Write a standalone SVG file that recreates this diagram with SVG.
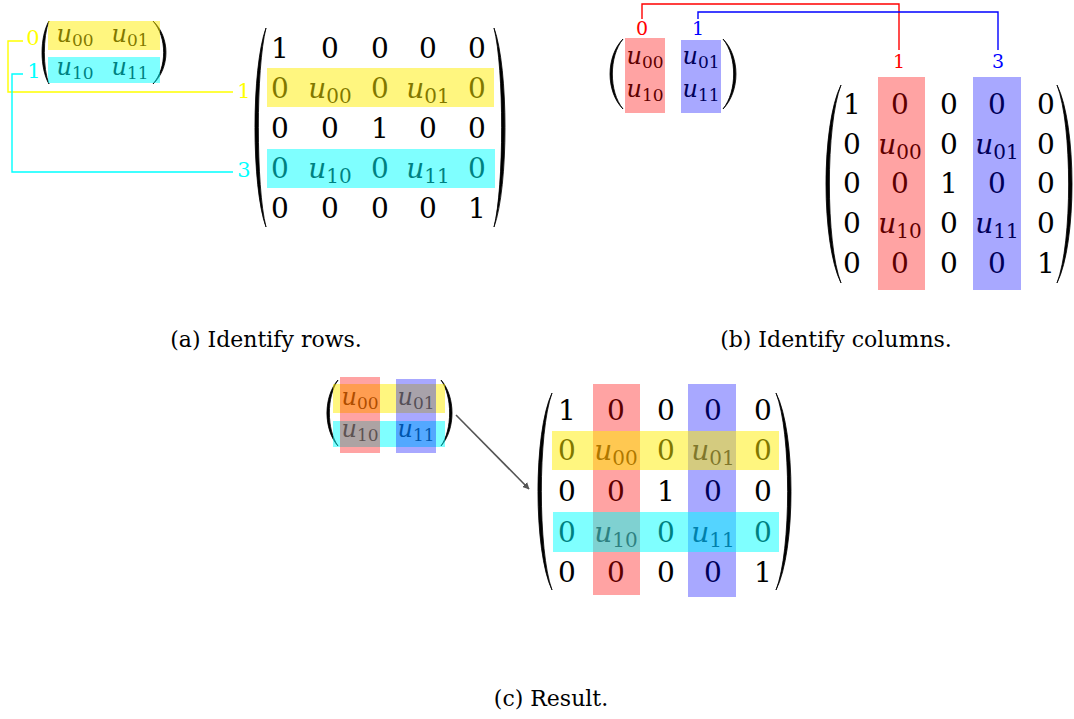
<svg xmlns="http://www.w3.org/2000/svg" width="1074" height="719" viewBox="0 0 1074 719">
<defs>
<style>
text{font-family:"DejaVu Serif",serif}
.m{font-size:28px;text-anchor:middle;fill:#000}
.ms{font-size:24px;text-anchor:middle;fill:#000}
.i{font-style:italic}
.s{font-size:20px}
.ss{font-size:17px}
.p{fill:#000;stroke:#000;stroke-width:0.8}
.lbl{font-size:21px;text-anchor:middle}
.lblb{font-size:19px;text-anchor:middle}
.cap{font-size:22px;text-anchor:middle;fill:#000}
.y{fill:#ffee00;opacity:0.5}
.c{fill:#00ffff;opacity:0.5}
.r{fill:#ff0000;opacity:0.36}
.b{fill:#0000ff;opacity:0.34}
.ln{fill:none;stroke-width:1.4}
</style>
<marker id="ah" viewBox="0 0 10 10" refX="9" refY="5" markerWidth="7" markerHeight="7" orient="auto" markerUnits="userSpaceOnUse">
<path d="M0,0 L10,5 L0,10 z" fill="#555"/>
</marker>
</defs>
<rect width="1074" height="719" fill="#fff"/>

<!-- (a) small matrix -->
<g id="a-small">
<path class="p" d="M49,21 C39.7,37 39.7,68 49,84 C42.8,68 42.8,37 49,21Z"/>
<path class="p" d="M153,21 C170.3,37 170.3,68 153,84 C167.2,68 167.2,37 153,21Z"/>
<text class="ms" x="75" y="42"><tspan class="i">u</tspan><tspan class="ss" dy="4">00</tspan></text>
<text class="ms" x="130" y="42"><tspan class="i">u</tspan><tspan class="ss" dy="4">01</tspan></text>
<text class="ms" x="75" y="75"><tspan class="i">u</tspan><tspan class="ss" dy="4">10</tspan></text>
<text class="ms" x="130" y="75"><tspan class="i">u</tspan><tspan class="ss" dy="4">11</tspan></text>
<rect class="y" x="48" y="21" width="112" height="29"/>
<rect class="c" x="48" y="57" width="112" height="26"/>
<text class="lbl" x="33" y="45" fill="#ffff00">0</text>
<text class="lbl" x="34" y="78" fill="#00ffff">1</text>
</g>

<!-- (a) big matrix -->
<g id="a-big">
<path class="p" d="M266,28 C251.3,68 251.3,187 266,227 C255.8,187 255.8,68 266,28Z"/>
<path class="p" d="M494,28 C508.7,68 508.7,187 494,227 C504.2,187 504.2,68 494,28Z"/>
<text class="m" x="280" y="58">1</text><text class="m" x="330" y="58">0</text><text class="m" x="380" y="58">0</text><text class="m" x="428" y="58">0</text><text class="m" x="477" y="58">0</text>
<text class="m" x="280" y="98">0</text><text class="m" x="330" y="98"><tspan class="i">u</tspan><tspan class="s" dy="5">00</tspan></text><text class="m" x="380" y="98">0</text><text class="m" x="428" y="98"><tspan class="i">u</tspan><tspan class="s" dy="5">01</tspan></text><text class="m" x="477" y="98">0</text>
<text class="m" x="280" y="138">0</text><text class="m" x="330" y="138">0</text><text class="m" x="380" y="138">1</text><text class="m" x="428" y="138">0</text><text class="m" x="477" y="138">0</text>
<text class="m" x="280" y="178">0</text><text class="m" x="330" y="178"><tspan class="i">u</tspan><tspan class="s" dy="5">10</tspan></text><text class="m" x="380" y="178">0</text><text class="m" x="428" y="178"><tspan class="i">u</tspan><tspan class="s" dy="5">11</tspan></text><text class="m" x="477" y="178">0</text>
<text class="m" x="280" y="218">0</text><text class="m" x="330" y="218">0</text><text class="m" x="380" y="218">0</text><text class="m" x="428" y="218">0</text><text class="m" x="477" y="218">1</text>
<rect class="y" x="267" y="68" width="227" height="39"/>
<rect class="c" x="267" y="149" width="228" height="39"/>
<text class="lbl" x="244" y="98" fill="#ffff00">1</text>
<text class="lbl" x="244" y="177" fill="#00ffff">3</text>
</g>

<!-- (b) small matrix -->
<g id="b-small">
<path class="p" d="M623,39 C605.7,56.5 605.7,91.5 623,109 C608.8,91.5 608.8,56.5 623,39Z"/>
<path class="p" d="M723,39 C740.3,56.5 740.3,91.5 723,109 C737.2,91.5 737.2,56.5 723,39Z"/>
<text class="ms" x="645" y="64"><tspan class="i">u</tspan><tspan class="ss" dy="4">00</tspan></text>
<text class="ms" x="701" y="64"><tspan class="i">u</tspan><tspan class="ss" dy="4">01</tspan></text>
<text class="ms" x="645" y="97"><tspan class="i">u</tspan><tspan class="ss" dy="4">10</tspan></text>
<text class="ms" x="701" y="97"><tspan class="i">u</tspan><tspan class="ss" dy="4">11</tspan></text>
<rect class="r" x="625" y="38" width="40" height="75"/>
<rect class="b" x="681" y="40" width="40" height="73"/>
<text class="lblb" x="642" y="35" fill="#ff0000">0</text>
<text class="lblb" x="698" y="35" fill="#0000ff">1</text>
</g>

<!-- (b) big matrix -->
<g id="b-big">
<path class="p" d="M841,85 C821,125 821,243 841,283 C825.5,243 825.5,125 841,85Z"/>
<path class="p" d="M1057,85 C1077,125 1077,243 1057,283 C1072.5,243 1072.5,125 1057,85Z"/>
<text class="m" x="852" y="114">1</text><text class="m" x="900" y="114">0</text><text class="m" x="949" y="114">0</text><text class="m" x="997" y="114">0</text><text class="m" x="1046" y="114">0</text>
<text class="m" x="852" y="154">0</text><text class="m" x="900" y="154"><tspan class="i">u</tspan><tspan class="s" dy="5">00</tspan></text><text class="m" x="949" y="154">0</text><text class="m" x="997" y="154"><tspan class="i">u</tspan><tspan class="s" dy="5">01</tspan></text><text class="m" x="1046" y="154">0</text>
<text class="m" x="852" y="193">0</text><text class="m" x="900" y="193">0</text><text class="m" x="949" y="193">1</text><text class="m" x="997" y="193">0</text><text class="m" x="1046" y="193">0</text>
<text class="m" x="852" y="233">0</text><text class="m" x="900" y="233"><tspan class="i">u</tspan><tspan class="s" dy="5">10</tspan></text><text class="m" x="949" y="233">0</text><text class="m" x="997" y="233"><tspan class="i">u</tspan><tspan class="s" dy="5">11</tspan></text><text class="m" x="1046" y="233">0</text>
<text class="m" x="852" y="273">0</text><text class="m" x="900" y="273">0</text><text class="m" x="949" y="273">0</text><text class="m" x="997" y="273">0</text><text class="m" x="1046" y="273">1</text>
<rect class="r" x="878" y="77" width="47" height="213"/>
<rect class="b" x="973" y="77" width="48" height="213"/>
<text class="lblb" x="899" y="68" fill="#ff0000">1</text>
<text class="lblb" x="998" y="68" fill="#0000ff">3</text>
</g>

<!-- (c) small matrix -->
<g id="c-small">
<path class="p" d="M338,380 C323.3,396.5 323.3,429.5 338,446 C326.5,429.5 326.5,396.5 338,380Z"/>
<path class="p" d="M441,380 C455.7,396.5 455.7,429.5 441,446 C452.5,429.5 452.5,396.5 441,380Z"/>
<text class="ms" x="360" y="405"><tspan class="i">u</tspan><tspan class="ss" dy="4">00</tspan></text>
<text class="ms" x="416" y="405"><tspan class="i">u</tspan><tspan class="ss" dy="4">01</tspan></text>
<text class="ms" x="360" y="437"><tspan class="i">u</tspan><tspan class="ss" dy="4">10</tspan></text>
<text class="ms" x="416" y="437"><tspan class="i">u</tspan><tspan class="ss" dy="4">11</tspan></text>
<rect class="y" x="333" y="384" width="112" height="29"/>
<rect class="c" x="333" y="421" width="112" height="26"/>
<rect class="r" x="340" y="377" width="40" height="76"/>
<rect class="b" x="396" y="379" width="40" height="74"/>
</g>

<!-- (c) big matrix -->
<g id="c-big">
<path class="p" d="M552,393 C533.3,432 533.3,551 552,590 C537.8,551 537.8,432 552,393Z"/>
<path class="p" d="M776,393 C796,432 796,551 776,590 C791.5,551 791.5,432 776,393Z"/>
<text class="m" x="567" y="420">1</text><text class="m" x="616" y="420">0</text><text class="m" x="666" y="420">0</text><text class="m" x="713" y="420">0</text><text class="m" x="763" y="420">0</text>
<text class="m" x="567" y="460">0</text><text class="m" x="616" y="460"><tspan class="i">u</tspan><tspan class="s" dy="5">00</tspan></text><text class="m" x="666" y="460">0</text><text class="m" x="713" y="460"><tspan class="i">u</tspan><tspan class="s" dy="5">01</tspan></text><text class="m" x="763" y="460">0</text>
<text class="m" x="567" y="501">0</text><text class="m" x="616" y="501">0</text><text class="m" x="666" y="501">1</text><text class="m" x="713" y="501">0</text><text class="m" x="763" y="501">0</text>
<text class="m" x="567" y="542">0</text><text class="m" x="616" y="542"><tspan class="i">u</tspan><tspan class="s" dy="5">10</tspan></text><text class="m" x="666" y="542">0</text><text class="m" x="713" y="542"><tspan class="i">u</tspan><tspan class="s" dy="5">11</tspan></text><text class="m" x="763" y="542">0</text>
<text class="m" x="567" y="582">0</text><text class="m" x="616" y="582">0</text><text class="m" x="666" y="582">0</text><text class="m" x="713" y="582">0</text><text class="m" x="763" y="582">1</text>
<rect class="r" x="593" y="384" width="47" height="211"/>
<rect class="b" x="688" y="384" width="48" height="213"/>
<rect class="y" x="552" y="431" width="227" height="39"/>
<rect class="c" x="553" y="512" width="226" height="40"/>
</g>

<!-- connectors -->
<g id="connectors">
<path class="ln" stroke="#ffff00" d="M23,41 H8 V92 H233"/>
<path class="ln" stroke="#00ffff" d="M23,74 H12 V172 H233"/>
<path class="ln" stroke="#ff0000" d="M642,19 V4 H899 V50"/>
<path class="ln" stroke="#0000ff" d="M698,19 V12 H998 V50"/>
<line x1="456" y1="415" x2="529" y2="489" stroke="#555" stroke-width="1.6" marker-end="url(#ah)"/>
</g>

<!-- captions -->
<g id="captions">
<text class="cap" x="266" y="347">(a) Identify rows.</text>
<text class="cap" x="836" y="347">(b) Identify columns.</text>
<text class="cap" x="551" y="706">(c) Result.</text>
</g>
</svg>
